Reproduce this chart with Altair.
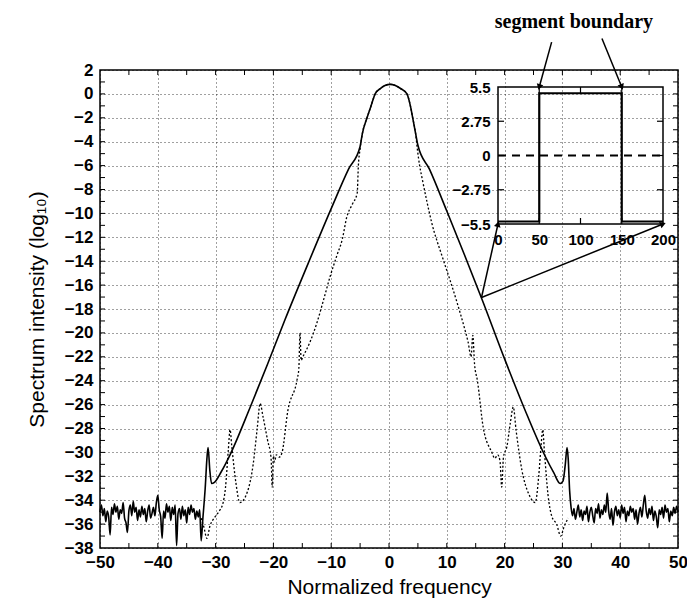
import altair as alt
import pandas as pd

W, H = 578, 478

# ---------------- main chart data (Normalized frequency vs log10 intensity) -------------
noise_left_x = [-50 + 0.25 * i for i in range(71)]
noise_left_y = [-35.0, -34.4, -35.3, -34.7, -35.8, -34.9, -35.4, -36.9, -34.6, -35.2,
                -34.3, -35.0, -34.5, -35.6, -34.8, -35.1, -34.2, -35.5, -35.9, -36.7,
                -34.9, -34.4, -35.3, -34.1, -35.0, -34.6, -35.7, -34.8, -35.4, -34.5,
                -35.2, -34.7, -35.8, -34.9, -34.4, -35.5, -35.1, -34.6, -35.3, -34.2,
                -33.6, -34.8, -35.4, -37.2, -34.9, -35.5, -34.3, -35.0, -34.5, -35.7,
                -34.6, -35.2, -34.4, -37.8, -35.1, -34.7, -35.6, -34.5, -35.3, -34.8,
                -35.9, -34.6, -35.2, -34.4, -35.0, -34.7, -35.6, -34.9, -35.4, -34.8,
                -37.4]

solid_x = [-32.2, -31.8, -31.5, -31.3, -31.0, -30.7, -30.2, -29.0, -27.5, -24.0, -21.0,
           -18.0, -14.0, -10.0, -7.0, -5.0, -4.6, -3.8, -3.1, -2.4, -1.5, -0.7, 0.2, 1.1,
           2.0, 3.1, 3.7, 4.1, 4.6, 5.0, 7.0, 10.0, 13.0, 16.1, 20.1, 24.0, 27.0, 28.5,
           29.6, 30.1, 30.5, 30.8, 31.0]
solid_y = [-35.5, -33.0, -30.5, -29.6, -31.5, -32.6, -32.5, -31.6, -30.2, -26.2, -22.6,
           -18.9, -14.2, -9.6, -6.3, -4.4, -3.3, -2.0, -1.0, 0.0, 0.45, 0.7, 0.8, 0.7,
           0.45, 0.0, -1.0, -2.0, -3.3, -4.3, -6.3, -9.8, -13.4, -17.2, -22.3, -27.0,
           -30.3, -31.7, -32.6, -32.4, -31.0, -29.6, -30.5]

noise_right_x = [31.25 + 0.25 * i for i in range(76)]
noise_right_y = [-33.2, -34.6, -35.3, -34.7, -35.6, -35.0, -34.4, -35.4, -34.8, -35.7,
                 -34.9, -35.2, -34.5, -35.8, -35.0, -34.6, -35.3, -35.9, -34.7, -35.1,
                 -34.3, -35.5, -34.8, -35.2, -34.4, -35.0, -33.4, -34.9, -35.6, -34.7,
                 -36.1, -35.0, -34.5, -35.3, -34.8, -35.5, -34.4, -35.1, -34.6, -35.8,
                 -34.9, -35.3, -34.5, -35.0, -34.7, -35.6, -34.8, -36.0, -35.1, -34.6,
                 -35.4, -34.4, -33.6, -34.9, -35.5, -34.7, -35.2, -34.5, -35.7, -34.9,
                 -35.4, -36.3, -34.8, -35.2, -34.6, -35.5, -34.4, -35.0, -34.7, -35.8,
                 -34.9, -35.3, -34.6, -35.1, -34.5, -35.0]

dot_x = [-32.5, -32.0, -31.5, -31.0, -30.1, -29.5, -28.7, -28.3, -27.8, -27.5, -27.2,
         -26.5, -25.8, -24.5, -23.5, -22.8, -22.3, -21.8, -21.0, -20.4, -20.2, -20.0,
         -19.8, -19.5, -19.0, -18.5, -17.5, -15.9, -15.6, -15.4, -15.2, -14.9, -13.7,
         -12.5, -11.3, -10.2, -9.0, -8.1, -7.3, -6.3, -5.5, -5.3, -5.0, -4.6, -3.8,
         -3.1, -2.4, -1.5, -0.7, 0.2, 1.1, 2.0, 3.1, 3.7, 4.1, 4.6, 4.9, 5.3, 5.7, 6.6,
         7.4, 9.2, 10.5, 11.8, 13.0, 13.7, 14.2, 14.5, 14.8, 15.3, 16.3, 17.8, 18.3,
         18.8, 19.2, 19.5, 19.8, 20.4, 21.0, 21.5, 22.0, 23.0, 24.2, 25.3, 25.9, 26.3,
         26.6, 26.9, 27.5, 28.2, 29.0, 29.7, 30.3, 31.0]
dot_y = [-35.5, -36.3, -37.2, -36.2, -35.4, -35.0, -34.2, -33.0, -29.8, -28.1, -29.5,
         -32.5, -34.2, -33.3, -31.0, -28.0, -25.9, -27.0, -29.0, -30.5, -32.9, -30.3,
         -30.8, -30.2, -30.4, -30.0, -26.5, -23.9, -23.0, -20.0, -22.3, -22.0, -20.8,
         -19.2, -17.2, -15.3, -13.5, -12.2, -10.3, -9.2, -8.3, -6.0, -4.6, -3.3, -2.0,
         -1.0, 0.0, 0.45, 0.7, 0.8, 0.7, 0.45, 0.0, -1.0, -2.0, -3.3, -4.6, -6.0, -7.0,
         -9.1, -10.8, -13.6, -15.5, -17.5, -19.5, -20.8, -22.0, -20.2, -22.6, -24.0,
         -27.9, -30.0, -30.5, -30.2, -30.7, -32.9, -30.4, -29.5, -27.5, -26.2, -28.2,
         -31.5, -33.5, -34.2, -32.0, -29.5, -28.1, -30.0, -33.5, -35.4, -36.0, -37.0,
         -36.2, -35.5]

x_ticks = [-50, -40, -30, -20, -10, 0, 10, 20, 30, 40, 50]
y_ticks = list(range(-38, 3, 2))
x_minor = list(range(-45, 50, 5))
y_minor = list(range(-37, 2, 1))

# ---------------- inset data (segment boundary) ----------------
step_x = [0, 50, 50, 150, 150, 200]
step_y = [-5.3, -5.3, 5.0, 5.0, -5.3, -5.3]
zero_x = [0, 200]
zero_y = [0, 0]
inset_xticks = [0, 50, 100, 150, 200]
inset_yticks = [-5.5, -2.75, 0, 2.75, 5.5]
inset_box = {"x": [0], "x2": [200], "y": [-5.5], "y2": [5.5]}

# annotation arrows (inset coordinates): start -> end
arrow_x = [65, 126, -20, -20]
arrow_y = [9.1, 9.4, -11.4, -11.4]
arrow_x2 = [50, 150, 0, 200]
arrow_y2 = [5.5, 5.5, -5.5, -5.5]
arrow_angle = [196, 158, 15, 69]
label_text = ["segment boundary"]
label_x = [92]
label_y = [10.7]

# ---------------- build tables ----------------
main_curve = pd.DataFrame({
    "x": noise_left_x + solid_x + noise_right_x,
    "y": noise_left_y + solid_y + noise_right_y,
})
main_curve["o"] = range(len(main_curve))
dotted_curve = pd.DataFrame({"x": dot_x, "y": dot_y})
dotted_curve["o"] = range(len(dotted_curve))

FONT = "Liberation Sans"
xs = alt.Scale(domain=[-50, 50], nice=False, zero=False)
ys = alt.Scale(domain=[-38, 2], nice=False, zero=False)
x_axis = alt.Axis(values=x_ticks, format="d", title="Normalized frequency", grid=True,
                  ticks=False, domain=False, labelFlush=False, labelPadding=6,
                  titlePadding=6)
y_axis = alt.Axis(values=y_ticks, format="d", title="Spectrum intensity (log₁₀)",
                  grid=True, ticks=False, domain=False, labelFlush=False,
                  labelPadding=7, titlePadding=17)

X = lambda f: alt.X(f, scale=xs, axis=x_axis)
Y = lambda f: alt.Y(f, scale=ys, axis=y_axis)

solid = alt.Chart(main_curve).mark_line(color="black", strokeWidth=1.6,
                                        interpolate="monotone").encode(
    x=X("x:Q"), y=Y("y:Q"), order="o:Q")
dotted = alt.Chart(dotted_curve).mark_line(color="black", strokeWidth=1.3,
                                           strokeDash=[2, 2],
                                           interpolate="monotone").encode(
    x=X("x:Q"), y=Y("y:Q"), order="o:Q")

ymin_df = pd.DataFrame({"v": y_minor})
xmin_df = pd.DataFrame({"v": x_minor})
tl = alt.Chart(ymin_df).mark_rule(color="black", strokeWidth=1).encode(
    y=Y("v:Q"), x=alt.value(0), x2=alt.value(5))
tr = alt.Chart(ymin_df).mark_rule(color="black", strokeWidth=1).encode(
    y=Y("v:Q"), x=alt.value(W), x2=alt.value(W - 5))
tb = alt.Chart(xmin_df).mark_rule(color="black", strokeWidth=1).encode(
    x=X("v:Q"), y=alt.value(H), y2=alt.value(H - 5))
tt = alt.Chart(xmin_df).mark_rule(color="black", strokeWidth=1).encode(
    x=X("v:Q"), y=alt.value(0), y2=alt.value(5))

main = alt.layer(tl, tr, tb, tt, dotted, solid)

# ---------------- inset ----------------
ixs = alt.Scale(domain=[0, 200], range=[398, 563], nice=False, zero=False)
iys = alt.Scale(domain=[-5.5, 5.5], range=[154, 17], nice=False, zero=False)
ix_axis = alt.Axis(values=inset_xticks, format=".4~f", orient="bottom", offset=-(H - 154),
                   title=None, grid=False, ticks=False, domain=False, labelFlush=False,
                   labelFontSize=15, labelPadding=8)
iy_axis = alt.Axis(values=inset_yticks, format=".4~f", orient="left", offset=-398,
                   title=None, grid=False, ticks=False, domain=False, labelFlush=False,
                   labelFontSize=15, labelPadding=8)
IX = lambda f: alt.X(f, scale=ixs, axis=ix_axis)
IY = lambda f: alt.Y(f, scale=iys, axis=iy_axis)

frame = alt.Chart(pd.DataFrame(inset_box)).mark_rect(
    filled=False, stroke="black", strokeWidth=1.5).encode(
    x=IX("x:Q"), x2="x2:Q", y=IY("y:Q"), y2="y2:Q")
step_df = pd.DataFrame({"x": step_x, "y": step_y, "o": range(len(step_x))})
step = alt.Chart(step_df).mark_line(color="black", strokeWidth=2.2).encode(
    x=IX("x:Q"), y=IY("y:Q"), order="o:Q")
zero = alt.Chart(pd.DataFrame({"x": zero_x, "y": zero_y})).mark_line(
    color="black", strokeWidth=2, strokeDash=[8, 6]).encode(x=IX("x:Q"), y=IY("y:Q"))

itick_x = pd.DataFrame({"v": [50, 100, 150]})
itick_y = pd.DataFrame({"v": [-2.75, 0, 2.75]})
ibt = alt.Chart(itick_x).mark_rule(color="black", strokeWidth=1.2).encode(
    x=IX("v:Q"), y=alt.value(154), y2=alt.value(148))
itt = alt.Chart(itick_x).mark_rule(color="black", strokeWidth=1.2).encode(
    x=IX("v:Q"), y=alt.value(17), y2=alt.value(23))
ilt = alt.Chart(itick_y).mark_rule(color="black", strokeWidth=1.2).encode(
    y=IY("v:Q"), x=alt.value(398), x2=alt.value(404))
irt = alt.Chart(itick_y).mark_rule(color="black", strokeWidth=1.2).encode(
    y=IY("v:Q"), x=alt.value(563), x2=alt.value(557))

arr_df = pd.DataFrame({"x": arrow_x, "y": arrow_y, "x2": arrow_x2, "y2": arrow_y2,
                       "a": arrow_angle})
arrows = alt.Chart(arr_df).mark_rule(color="black", strokeWidth=1.5).encode(
    x=IX("x:Q"), y=IY("y:Q"), x2="x2:Q", y2="y2:Q")
heads = alt.Chart(arr_df).mark_point(shape="triangle-up", filled=True, color="black",
                                     size=45, opacity=1).encode(
    x=IX("x2:Q"), y=IY("y2:Q"), angle=alt.Angle("a:Q", scale=None))
label = alt.Chart(pd.DataFrame({"t": label_text, "x": label_x, "y": label_y})).mark_text(
    font="Liberation Serif", fontWeight="bold", fontSize=20, color="black",
    align="center", baseline="middle").encode(x=IX("x:Q"), y=IY("y:Q"), text="t:N")

inset = alt.layer(frame, zero, step, ibt, itt, ilt, irt, arrows, heads, label)

chart = alt.layer(main, inset).resolve_scale(x="independent", y="independent").properties(
    width=W, height=H,
    autosize=alt.AutoSizeParams(type="none"),
    padding={"left": 100, "top": 70, "right": 9, "bottom": 59},
    background="white",
).configure_view(stroke="black", strokeWidth=1.5).configure_axis(
    labelFont=FONT, labelFontSize=17, labelFontWeight="bold", labelColor="black",
    titleFont=FONT, titleFontSize=21, titleFontWeight="normal", titleColor="black",
    gridColor="black", gridDash=[1, 3], gridWidth=1, gridOpacity=0.75,
)

chart.save("out.html", embed_options={"renderer": "svg", "actions": False})
